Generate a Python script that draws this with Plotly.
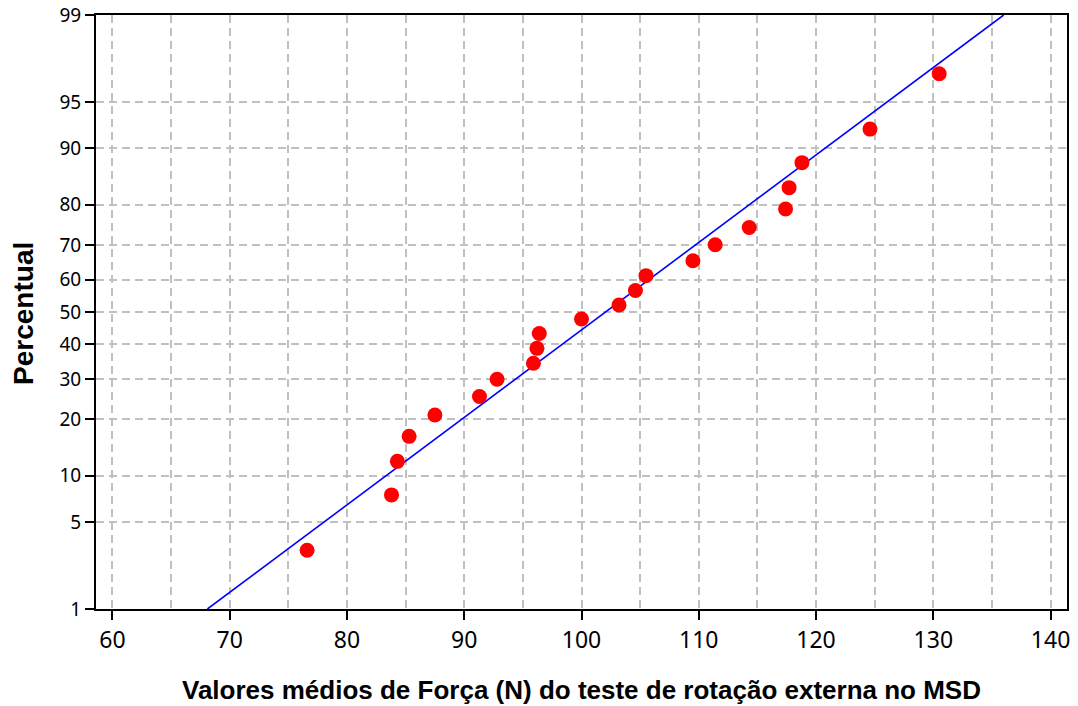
from statistics import NormalDist
import plotly.graph_objects as go

# valores medios de forca (N) e percentuais
forca = [76.6, 83.8, 84.3, 85.3, 87.5, 91.3, 92.8, 95.9, 96.2, 96.4, 100.0,
         103.2, 104.6, 105.5, 109.5, 111.4, 114.3, 117.4, 117.7, 118.8, 124.6, 130.5]
percentual = [3.1, 7.6, 12.1, 16.5, 21.0, 25.4, 29.9, 34.4, 38.8, 43.3, 47.8,
              52.2, 56.7, 61.2, 65.6, 70.1, 74.6, 79.0, 83.5, 87.9, 92.4, 96.9]

# reta ajustada (normal) entre 1% e 99%
reta_forca = [68.1, 136.0]
reta_pct = [1, 99]

y_ticks = [1, 5, 10, 20, 30, 40, 50, 60, 70, 80, 90, 95, 99]
x_ticks = [60, 70, 80, 90, 100, 110, 120, 130, 140]

nd = NormalDist()


def probit(p):
    return nd.inv_cdf(p / 100)


fig = go.Figure()
fig.add_trace(go.Scatter(
    x=reta_forca, y=[probit(p) for p in reta_pct], mode="lines",
    line=dict(color="#0000ff", width=1.6), showlegend=False,
))
fig.add_trace(go.Scatter(
    x=forca, y=[probit(p) for p in percentual], mode="markers",
    marker=dict(color="#ff0000", size=15, line=dict(width=0)), showlegend=False,
))

grid = dict(showgrid=True, gridcolor="#c0c0c0", gridwidth=1.5, griddash="8px,5px")
tick_font = dict(family="Noto Sans, sans-serif", color="#000")
title_font = dict(family="Liberation Sans, Arial", color="#000", weight="bold")

fig.update_xaxes(
    range=[58.6, 141.4], tickvals=x_ticks, ticks="outside", ticklen=9, tickwidth=2,
    tickcolor="#000", showline=True, linecolor="#000", linewidth=2, mirror=True,
    zeroline=False, automargin=False, ticklabeloverflow="allow",
    tickfont=dict(size=23, **tick_font),
    minor=dict(dtick=5, tick0=60, showgrid=True, gridcolor="#c0c0c0",
               gridwidth=1.5, griddash="8px,5px"),
    **grid,
)
fig.update_yaxes(
    range=[probit(1), probit(99)], tickvals=[probit(p) for p in y_ticks],
    ticktext=[str(p) for p in y_ticks], ticks="outside", ticklen=9, tickwidth=2,
    tickcolor="#000", showline=True, linecolor="#000", linewidth=2, mirror=True,
    zeroline=False, automargin=False, ticklabeloverflow="allow",
    tickfont=dict(size=19, **tick_font),
    **grid,
)
fig.add_annotation(
    text="Valores médios de Força (N) do teste de rotação externa no MSD",
    xref="paper", yref="paper", x=0.5, y=-0.136, xanchor="center", yanchor="middle",
    showarrow=False, font=dict(size=26, **title_font),
)
fig.add_annotation(
    text="Percentual", textangle=-90,
    xref="paper", yref="paper", x=-0.074, y=0.497, xanchor="center", yanchor="middle",
    showarrow=False, font=dict(size=28, **title_font),
)
fig.update_layout(
    width=1070, height=698, margin=dict(l=88, r=11, t=7, b=97),
    plot_bgcolor="#ffffff", paper_bgcolor="#ffffff",
)
fig.write_html("out.html")
